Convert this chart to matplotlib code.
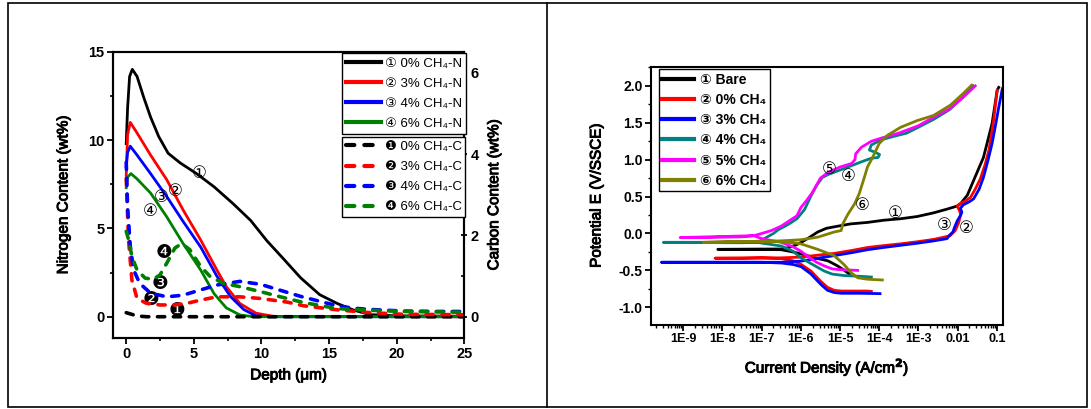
import numpy as np
import matplotlib.pyplot as plt
import matplotlib.patheffects as pe
from matplotlib.patches import Rectangle
from matplotlib.lines import Line2D
from matplotlib.ticker import MultipleLocator, LogLocator, NullFormatter

plt.rcParams['font.family'] = ['Liberation Sans', 'DejaVu Sans', 'Noto Sans CJK JP']
plt.rcParams['font.weight'] = 'bold'
plt.rcParams['mathtext.fontset'] = 'custom'
plt.rcParams['mathtext.rm'] = 'Liberation Sans Narrow'
plt.rcParams['mathtext.bf'] = 'Liberation Sans:bold'
plt.rcParams['axes.linewidth'] = 1.5

# ---------------------------------------------------------------------
# left panel : nitrogen / carbon depth profiles
depth_n0 = [0, 0.1, 0.25, 0.45, 0.8, 1.3, 1.8, 2.4, 3.1, 4.0, 5.2, 6.5, 7.9, 9.2, 10.4, 11.6, 12.9, 14.3, 15.6, 16.8, 18.0, 20, 25]
nitro_0 = [9.8, 11.8, 13.6, 14.0, 13.6, 12.4, 11.3, 10.2, 9.25, 8.7, 8.1, 7.35, 6.4, 5.45, 4.3, 3.3, 2.2, 1.25, 0.75, 0.38, 0.12, 0.05, 0.03]
depth_n3 = [0, 0.1, 0.3, 0.8, 1.8, 3.0, 4.2, 5.5, 6.7, 7.4, 8.4, 9.6, 10.9, 25]
nitro_3 = [8.0, 10.3, 11.0, 10.4, 9.15, 7.75, 6.05, 4.35, 2.65, 1.7, 0.75, 0.2, 0.02, 0.0]
depth_n4 = [0, 0.1, 0.3, 0.8, 1.8, 3.0, 4.2, 5.5, 6.7, 7.7, 8.7, 9.6, 10.5, 25]
nitro_4 = [8.5, 9.3, 9.65, 9.15, 8.1, 6.8, 5.4, 3.95, 2.3, 1.15, 0.4, 0.05, 0.0, 0.0]
depth_n6 = [0, 0.1, 0.35, 0.8, 1.8, 3.0, 4.2, 5.5, 6.5, 7.4, 8.4, 9.4, 25]
nitro_6 = [7.3, 7.9, 8.1, 7.8, 7.0, 5.65, 4.15, 2.65, 1.3, 0.5, 0.1, 0.0, 0.0]

depth_c0 = [0, 0.3, 0.8, 1.5, 25]
carb_0 = [0.1, 0.07, 0.02, 0.0, 0.0]
depth_c3 = [0, 0.17, 0.42, 0.8, 1.5, 2.5, 3.5, 4.5, 5.5, 6.7, 8.4, 9.9, 11.9, 13.1, 15.6, 18, 20.5, 25]
carb_3 = [3.4, 1.9, 0.9, 0.45, 0.33, 0.29, 0.29, 0.33, 0.41, 0.49, 0.49, 0.45, 0.36, 0.27, 0.17, 0.1, 0.06, 0.05]
depth_c4 = [0, 0.1, 0.3, 0.55, 1.0, 1.8, 3.0, 4.2, 5.5, 6.7, 8.4, 9.9, 11.4, 12.9, 14.3, 15.6, 16.8, 18, 20.5, 23, 25]
carb_4 = [3.8, 2.7, 1.73, 1.15, 0.82, 0.58, 0.49, 0.53, 0.66, 0.78, 0.87, 0.8, 0.65, 0.5, 0.38, 0.27, 0.21, 0.18, 0.14, 0.13, 0.13]
depth_c6 = [0, 0.17, 0.42, 0.8, 1.4, 2.0, 2.5, 3.0, 3.6, 4.1, 4.7, 5.5, 6.2, 7.2, 8.4, 9.9, 11.4, 13.1, 15.6, 18, 20.5, 25]
carb_6 = [2.1, 1.9, 1.48, 1.15, 0.95, 0.92, 1.03, 1.32, 1.69, 1.8, 1.65, 1.24, 0.99, 0.82, 0.74, 0.62, 0.49, 0.35, 0.2, 0.16, 0.13, 0.11]

n_labels = ['\u2460 0% CH\u2084-N', '\u2461 3% CH\u2084-N', '\u2462 4% CH\u2084-N', '\u2463 6% CH\u2084-N']
c_labels = ['\u2776 0% CH\u2084-C', '\u2777 3% CH\u2084-C', '\u2778 4% CH\u2084-C', '\u2779 6% CH\u2084-C']
n_marks = ['\u2460', '\u2461', '\u2462', '\u2463']
n_mark_pos = [(5.42, 8.15), (3.6, 7.1), (2.6, 6.8), (1.8, 6.0)]
c_marks = ['\u2776', '\u2777', '\u2778', '\u2779']
c_mark_pos = [(3.74, 0.34), (1.8, 0.95), (2.5, 1.9), (2.76, 3.64)]

# right panel : polarisation curves, log10(i) / E   (ecorr point first)
log_i_bare_c = [-8.12, -7.5, -7.0, -6.5, -6.2, -5.9, -5.65, -5.31, -5.06, -4.89, -4.76]
e_bare_c = [-0.215, -0.215, -0.215, -0.22, -0.25, -0.29, -0.33, -0.37, -0.44, -0.5, -0.55]
log_i_bare_a = [-6.5, -6.3, -6.1, -5.99, -5.8, -5.57, -5.35, -5.15, -4.73, -4.3, -3.88, -3.45, -3.03, -2.61, -2.27, -2.02, -1.93, -1.75, -1.59, -1.34, -1.12, -0.99, -0.95]
e_bare_a = [-0.21, -0.19, -0.15, -0.12, -0.06, 0.02, 0.07, 0.09, 0.13, 0.15, 0.18, 0.2, 0.23, 0.28, 0.33, 0.37, 0.4, 0.52, 0.72, 1.03, 1.49, 1.94, 1.98]

log_i_0_c = [-8.19, -7.5, -7.0, -6.5, -6.2, -5.99, -5.74, -5.49, -5.32, -5.15, -4.97, -4.3, -4.2]
e_0_c = [-0.335, -0.335, -0.33, -0.34, -0.37, -0.42, -0.51, -0.65, -0.73, -0.77, -0.78, -0.78, -0.785]
log_i_0_a = [-6.5, -6.0, -5.5, -5.15, -4.7, -4.3, -3.9, -3.45, -3.0, -2.61, -2.35, -2.19, -2.06, -1.97, -1.92, -1.96, -2.01, -1.95, -1.8, -1.67, -1.55, -1.42, -1.3, -1.2, -1.08, -0.99]
e_0_a = [-0.33, -0.32, -0.29, -0.27, -0.23, -0.19, -0.165, -0.14, -0.11, -0.08, -0.05, -0.03, 0.04, 0.15, 0.26, 0.32, 0.37, 0.4, 0.44, 0.49, 0.6, 0.74, 0.93, 1.13, 1.53, 1.94]

log_i_3_c = [-9.55, -9.0, -8.0, -7.0, -6.5, -6.2, -5.99, -5.74, -5.49, -5.32, -5.15, -4.97, -4.5, -3.98]
e_3_c = [-0.39, -0.39, -0.39, -0.39, -0.4, -0.42, -0.45, -0.55, -0.69, -0.77, -0.8, -0.81, -0.81, -0.815]
log_i_3_a = [-6.5, -6.0, -5.5, -5.15, -4.7, -4.3, -3.9, -3.45, -3.0, -2.61, -2.27, -2.2, -2.12, -2.08, -2.01, -1.92, -1.89, -1.93, -1.85, -1.7, -1.59, -1.45, -1.34, -1.22, -1.12, -1.02, -0.95, -0.88, -0.86]
e_3_a = [-0.39, -0.375, -0.33, -0.3, -0.26, -0.22, -0.19, -0.16, -0.13, -0.1, -0.07, -0.02, 0.02, 0.08, 0.17, 0.25, 0.29, 0.34, 0.39, 0.43, 0.47, 0.6, 0.76, 1.0, 1.22, 1.5, 1.71, 1.9, 1.96]

log_i_4_c = [-9.5, -9.0, -8.0, -7.5, -7.1, -7.0, -6.5, -6.2, -6.0, -5.8, -5.6, -5.4, -5.2, -4.9, -4.5, -4.2]
e_4_c = [-0.12, -0.12, -0.125, -0.125, -0.12, -0.13, -0.17, -0.24, -0.33, -0.39, -0.45, -0.51, -0.55, -0.57, -0.58, -0.59]
log_i_4_a = [-7.1, -6.9, -6.7, -6.58, -6.4, -6.24, -6.1, -5.99, -5.9, -5.75, -5.6, -5.45, -5.3, -5.15, -4.8, -4.46, -4.2, -4.03, -3.99, -4.1, -4.25, -4.2, -3.95, -3.6, -3.3, -3.0, -2.6, -2.2, -1.9, -1.6]
e_4_a = [-0.12, -0.06, 0.0, 0.05, 0.1, 0.15, 0.2, 0.27, 0.33, 0.5, 0.65, 0.76, 0.8, 0.83, 0.9, 0.97, 1.02, 1.03, 1.07, 1.1, 1.13, 1.2, 1.27, 1.32, 1.36, 1.44, 1.55, 1.68, 1.83, 2.0]

log_i_5_c = [-9.08, -8.5, -8.0, -7.5, -7.2, -7.0, -6.5, -6.2, -6.0, -5.8, -5.6, -5.4, -5.2, -5.0, -4.55]
e_5_c = [-0.055, -0.055, -0.05, -0.045, -0.03, -0.07, -0.12, -0.18, -0.24, -0.32, -0.39, -0.44, -0.48, -0.49, -0.5]
log_i_5_a = [-7.2, -7.0, -6.75, -6.5, -6.3, -6.1, -6.0, -5.85, -5.7, -5.5, -5.3, -5.0, -4.7, -4.62, -4.6, -4.45, -4.2, -3.9, -3.5, -3.0, -2.6, -2.2, -1.85, -1.55]
e_5_a = [-0.03, 0.0, 0.04, 0.1, 0.17, 0.24, 0.35, 0.45, 0.56, 0.75, 0.83, 0.9, 0.95, 1.0, 1.08, 1.17, 1.25, 1.3, 1.36, 1.46, 1.58, 1.69, 1.85, 2.0]

log_i_6_c = [-8.49, -8.0, -7.5, -7.0, -6.5, -6.0, -5.57, -5.15, -4.9, -4.72, -4.55, -4.3, -3.92]
e_6_c = [-0.12, -0.115, -0.11, -0.105, -0.11, -0.14, -0.215, -0.3, -0.42, -0.53, -0.6, -0.62, -0.63]
log_i_6_a = [-6.5, -6.0, -5.57, -5.15, -4.97, -4.93, -4.8, -4.63, -4.51, -4.38, -4.3, -4.17, -4.0, -3.79, -3.45, -3.03, -2.61, -2.18, -1.85, -1.64]
e_6_a = [-0.1, -0.085, -0.05, 0.02, 0.04, 0.13, 0.26, 0.4, 0.54, 0.76, 0.9, 1.03, 1.22, 1.33, 1.44, 1.53, 1.6, 1.74, 1.9, 2.01]

tafel_labels = ['\u2460 Bare', '\u2461 0% CH\u2084', '\u2462 3% CH\u2084',
                '\u2463 4% CH\u2084', '\u2464 5% CH\u2084', '\u2465 6% CH\u2084']
tafel_colors = ['black', '#ff0000', '#0000ff', '#008080', '#ff00ff', '#808000']
tafel_marks = ['\u2460', '\u2461', '\u2462', '\u2463', '\u2464', '\u2465']
tafel_mark_pos = [(-3.58, 0.277), (-1.78, 0.068), (-2.33, 0.113), (-4.78, 0.775), (-5.27, 0.876), (-4.44, 0.39)]

n_colors = ['black', '#ff0000', '#0000ff', '#008000']
MARK_FONT = ['DejaVu Sans', 'Noto Sans CJK JP']
NARROW = ['Liberation Sans Narrow', 'Liberation Sans', 'DejaVu Sans', 'Noto Sans CJK JP']
FAKE_BOLD = [pe.withStroke(linewidth=0.7, foreground='black')]


def join_branches(li_c, e_c, li_a, e_a):
    li = list(reversed(li_c)) + list(li_a)
    e = list(reversed(e_c)) + list(e_a)
    return np.power(10.0, li), np.array(e)


def main() -> None:
    fig = plt.figure(figsize=(10.91, 4.09), dpi=100)

    # frame of the table
    fig.add_artist(Rectangle((0.0076, 0.004), 0.9884, 0.988, fill=False, lw=1.2,
                             edgecolor='black', transform=fig.transFigure))
    fig.add_artist(Line2D([0.5017, 0.5017], [0.004, 0.992], lw=1.2, color='black',
                          transform=fig.transFigure))

    # ---------------- left panel
    ax = fig.add_axes([0.1033, 0.1729, 0.3223, 0.7007])
    ax2 = ax.twinx()

    n_x = [depth_n0, depth_n3, depth_n4, depth_n6]
    n_y = [nitro_0, nitro_3, nitro_4, nitro_6]
    for xs, ys, col, lab in zip(n_x, n_y, n_colors, n_labels):
        ax.plot(xs, ys, color=col, lw=2.0, label=lab, solid_joinstyle='round')

    c_x = [depth_c0, depth_c3, depth_c4, depth_c6]
    c_y = [carb_0, carb_3, carb_4, carb_6]
    for xs, ys, col, lab in zip(c_x, c_y, n_colors, c_labels):
        ax2.plot(xs, ys, color=col, lw=2.6, dashes=(2.0, 2.4), dash_capstyle='round', label=lab)

    ax.set_xlim(-1, 25)
    ax.set_ylim(-1.22, 15)
    ax2.set_ylim(-0.53, 6.52)
    ax.xaxis.set_major_locator(MultipleLocator(5))
    ax.xaxis.set_minor_locator(MultipleLocator(2.5))
    ax.yaxis.set_major_locator(MultipleLocator(5))
    ax.yaxis.set_minor_locator(MultipleLocator(2.5))
    ax2.yaxis.set_major_locator(MultipleLocator(2))
    ax2.yaxis.set_minor_locator(MultipleLocator(1))
    ax.tick_params(which='major', direction='out', length=4, width=1.3, labelsize=10.5, pad=2)
    ax.tick_params(which='minor', direction='out', length=2.5, width=1.2)
    ax.tick_params(axis='x', which='both', top=False)
    ax2.tick_params(which='major', direction='inout', length=5, width=1.3, labelsize=10.5, pad=2)
    ax2.tick_params(which='minor', direction='in', length=2.5, width=1.2)
    for lbl in ax.get_xticklabels() + ax.get_yticklabels() + ax2.get_yticklabels():
        lbl.set_fontweight('bold')

    lab_kw = dict(fontsize=11, family=NARROW, fontweight='normal', path_effects=FAKE_BOLD)
    ax.set_xlabel('Depth (\u03bcm)', **lab_kw)
    ax.set_ylabel('Nitrogen Content (wt%)', **lab_kw)
    ax2.set_ylabel('Carbon Content (wt%)', **lab_kw)
    ax.xaxis.set_label_coords(0.5, -0.105)
    ax.yaxis.set_label_coords(-0.12, 0.5)
    ax2.yaxis.set_label_coords(1.065, 0.5)

    for t, (x, y) in zip(n_marks, n_mark_pos):
        ax.text(x, y, t, fontsize=12, ha='center', va='center', family=MARK_FONT,
                fontweight='normal')
    for t, (x, y) in zip(c_marks, c_mark_pos):
        ax.text(x, y, t, fontsize=13.5, ha='center', va='center', family=MARK_FONT,
                fontweight='normal', zorder=5)

    leg_kw = dict(handlelength=2.6, handletextpad=0.3, borderpad=0.3,
                  labelspacing=0.6, borderaxespad=0, fancybox=False, framealpha=1,
                  edgecolor='black', loc='upper left',
                  prop={'weight': 'normal', 'size': 9.5, 'family': NARROW})
    leg1 = ax2.legend(handles=ax.get_lines(), bbox_to_anchor=(0.653, 0.994), **leg_kw)
    leg2_handles = ax2.get_lines()
    ax2.add_artist(leg1)
    leg2 = ax2.legend(handles=leg2_handles, bbox_to_anchor=(0.653, 0.703), **leg_kw)
    for leg in (leg1, leg2):
        leg.get_frame().set_linewidth(1.0)
        for h in leg.get_lines():
            h.set_linewidth(3.0)

    # ---------------- right panel
    bx = fig.add_axes([0.5967, 0.2054, 0.3224, 0.6315])
    branches = [
        (log_i_bare_c, e_bare_c, log_i_bare_a, e_bare_a),
        (log_i_0_c, e_0_c, log_i_0_a, e_0_a),
        (log_i_3_c, e_3_c, log_i_3_a, e_3_a),
        (log_i_4_c, e_4_c, log_i_4_a, e_4_a),
        (log_i_5_c, e_5_c, log_i_5_a, e_5_a),
        (log_i_6_c, e_6_c, log_i_6_a, e_6_a),
    ]
    for br, col, lab in zip(branches, tafel_colors, tafel_labels):
        i, e = join_branches(*br)
        bx.plot(i, e, color=col, lw=2.0, label=lab, solid_joinstyle='round')

    bx.set_xscale('log')
    bx.set_xlim(1.5e-10, 0.142)
    bx.set_ylim(-1.24, 2.26)
    dec_ticks = [1e-9, 1e-8, 1e-7, 1e-6, 1e-5, 1e-4, 1e-3, 1e-2, 1e-1]
    dec_labels = ['1E-9', '1E-8', '1E-7', '1E-6', '1E-5', '1E-4', '1E-3', '0.01', '0.1']
    bx.set_xticks(dec_ticks, dec_labels)
    bx.xaxis.set_minor_locator(LogLocator(base=10, subs=np.arange(2, 10), numticks=20))
    bx.xaxis.set_minor_formatter(NullFormatter())
    bx.yaxis.set_major_locator(MultipleLocator(0.5))
    bx.yaxis.set_minor_locator(MultipleLocator(0.25))
    bx.yaxis.set_major_formatter(plt.FuncFormatter(lambda v, p: f'{v:.1f}'))
    bx.tick_params(which='major', direction='out', length=4, width=1.3, labelsize=10, pad=2)
    bx.tick_params(which='minor', direction='out', length=2.2, width=1.0)
    for lbl in bx.get_xticklabels() + bx.get_yticklabels():
        lbl.set_fontweight('bold')
    for lbl in bx.get_xticklabels():
        lbl.set_fontsize(9)

    bx.set_xlabel('Current Density (A/cm$^2$)', **lab_kw)
    bx.set_ylabel('Potential E (V/SSCE)', **lab_kw)
    bx.xaxis.set_label_coords(0.5, -0.12)
    bx.yaxis.set_label_coords(-0.135, 0.5)

    for t, (lx, y) in zip(tafel_marks, tafel_mark_pos):
        bx.text(10 ** lx, y, t, fontsize=12, ha='center', va='center', family=MARK_FONT,
                fontweight='normal')

    leg3 = bx.legend(loc='upper left', bbox_to_anchor=(0.0227, 0.991),
                     handlelength=2.3, handletextpad=0.4, borderpad=0.25, labelspacing=0.45,
                     borderaxespad=0, fancybox=False, framealpha=1, edgecolor='black',
                     prop={'weight': 'bold', 'size': 10,
                           'family': ['Liberation Sans', 'DejaVu Sans', 'Noto Sans CJK JP']})
    leg3.get_frame().set_linewidth(1.0)
    for h in leg3.get_lines():
        h.set_linewidth(3.0)

    fig.savefig('out.png', dpi=100)


if __name__ == "__main__":
    main()
